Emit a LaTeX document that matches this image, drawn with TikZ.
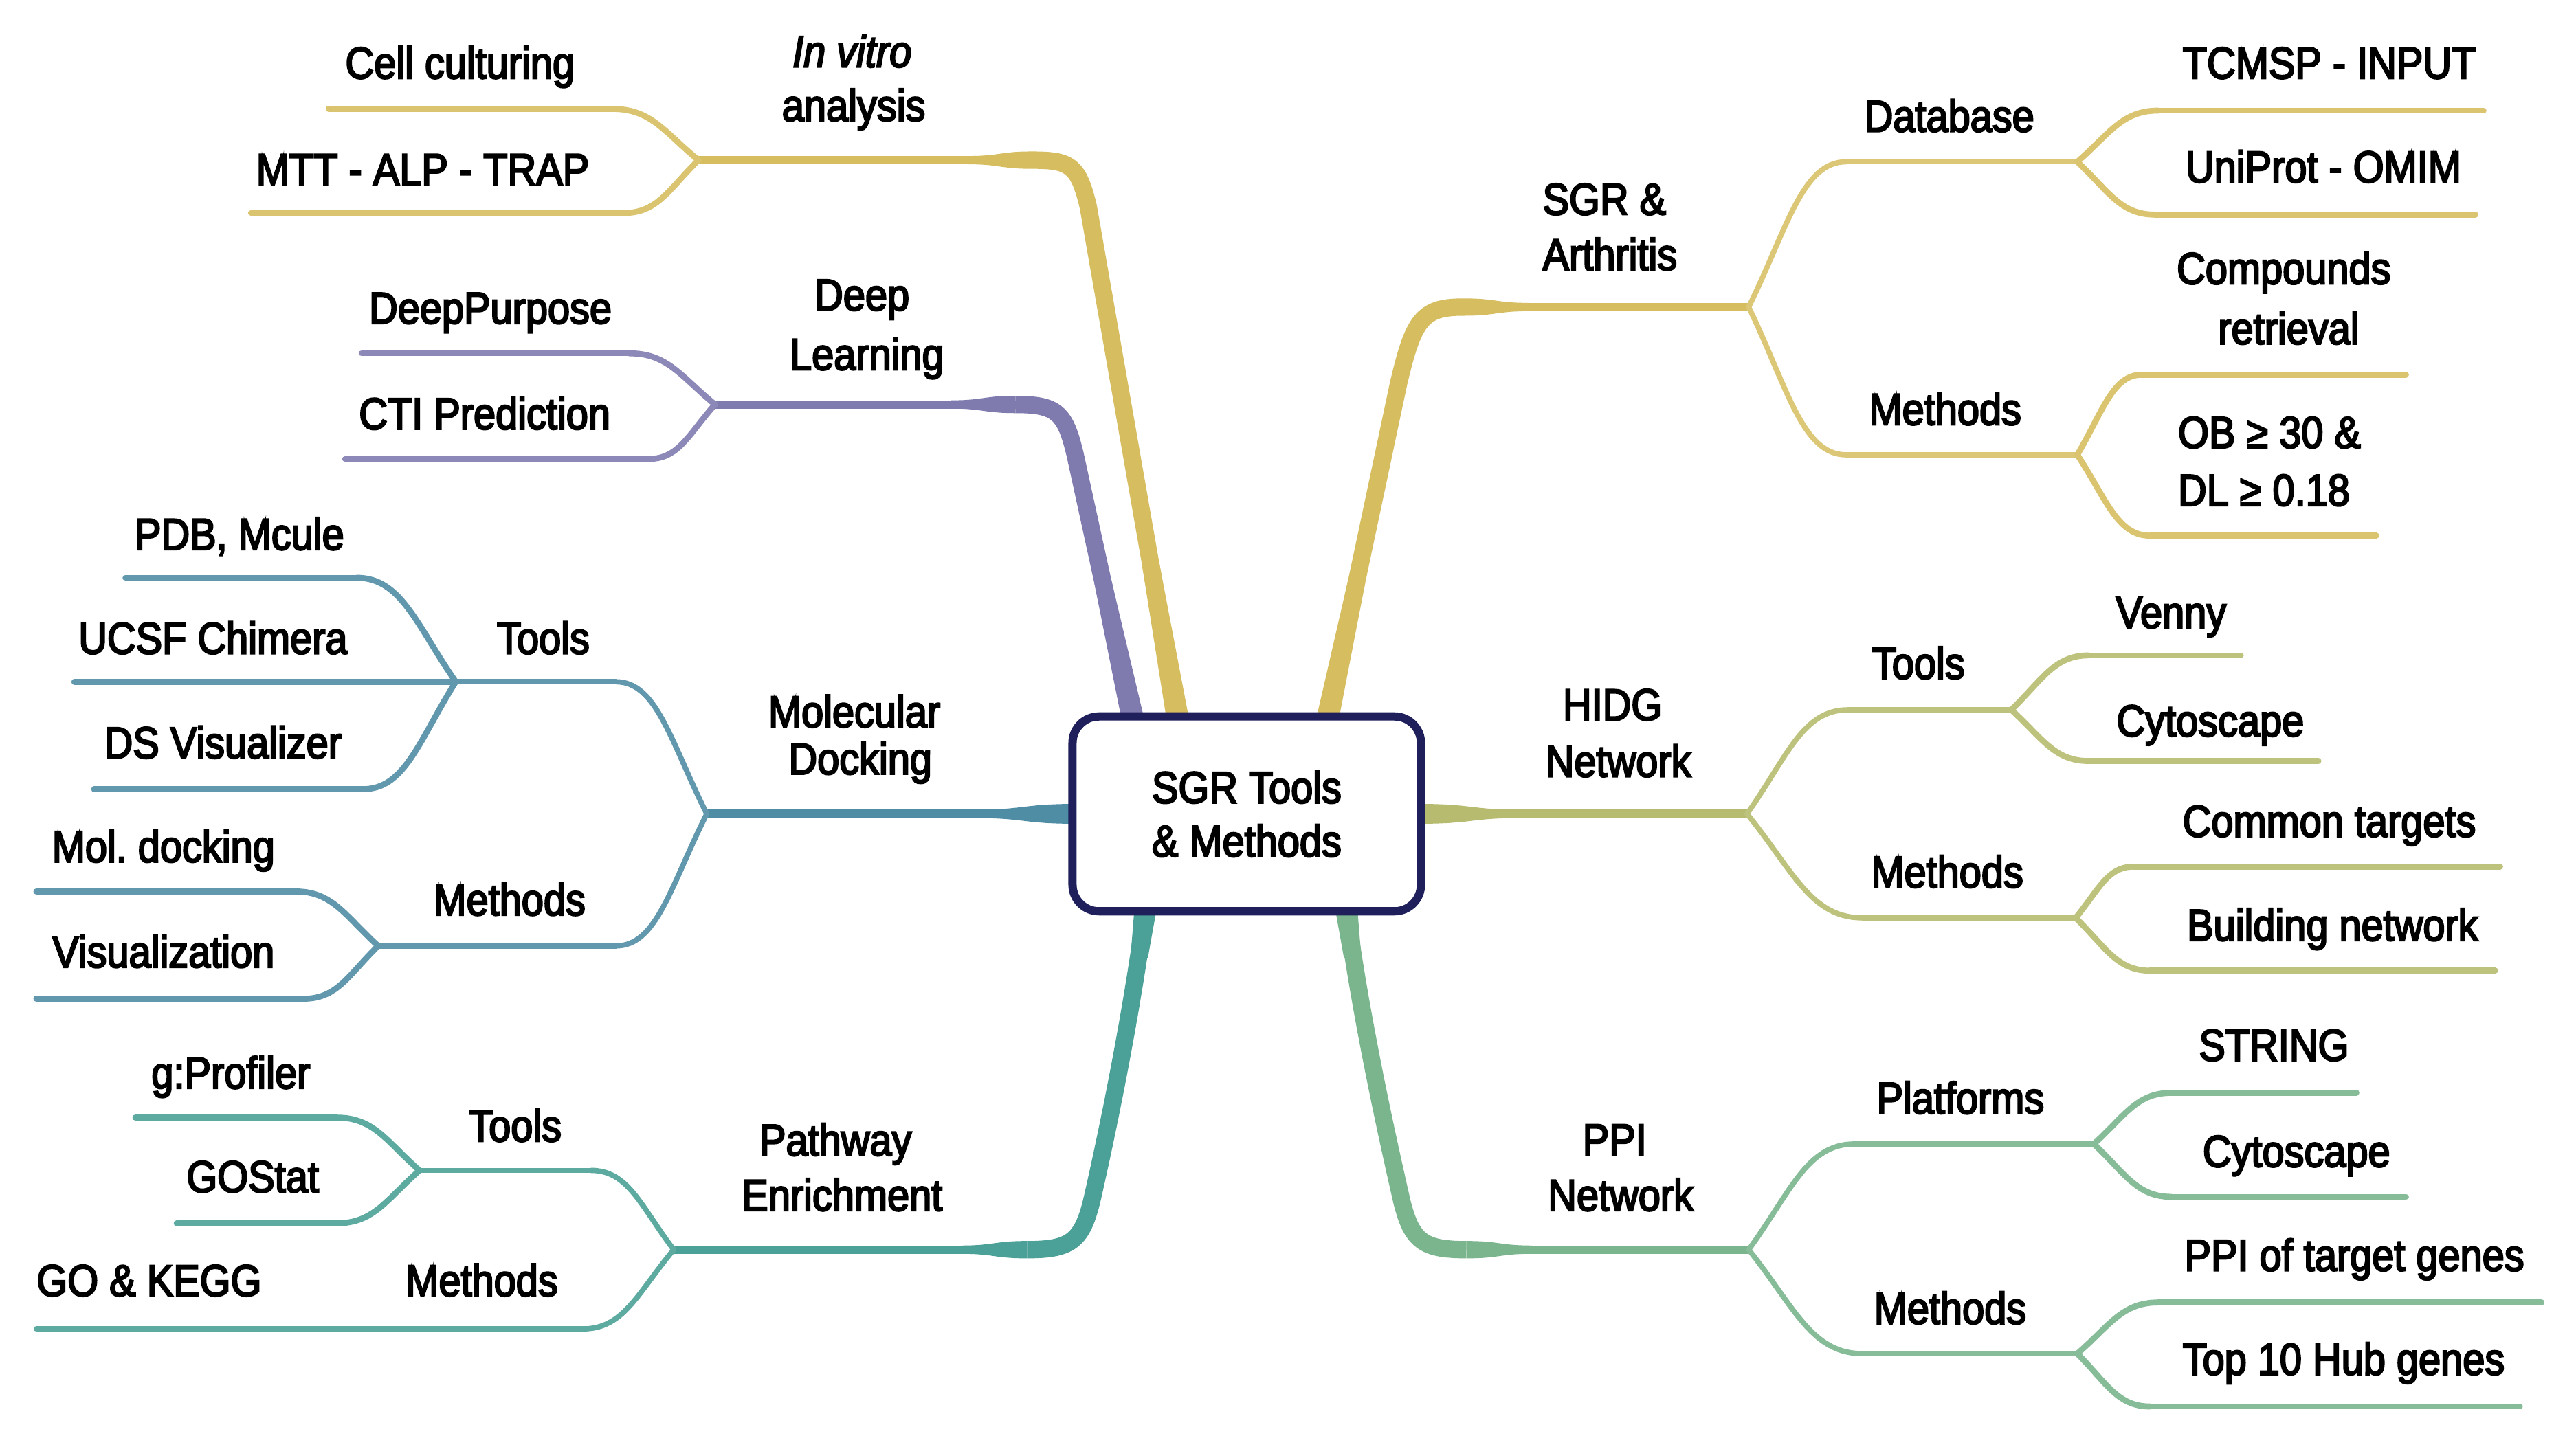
\documentclass[tikz,border=0pt]{standalone}
\usepackage{fontspec}
\setmainfont{Liberation Sans}[FakeStretch=0.89,FakeBold=3.5]
\usetikzlibrary{calc}
\definecolor{cA}{HTML}{D6BD5F}
\definecolor{cB}{HTML}{7F7BAF}
\definecolor{cC}{HTML}{4F8DA5}
\definecolor{cD}{HTML}{4BA097}
\definecolor{cE}{HTML}{D6BD5F}
\definecolor{cF}{HTML}{B6BB6F}
\definecolor{cG}{HTML}{7AB58D}
\definecolor{cbox}{HTML}{1F1F5C}
\newcommand\scurve[3]{\draw[#1] let \p1=(#2),\p2=(#3) in (\p1) .. controls ({\x1+0.45*(\x2-\x1)},\y1) and ({\x1+0.6*(\x2-\x1)},{\y1+0.45*(\y2-\y1)}) .. (\p2);}
\newcommand\taper[6]{\fill[#1] (#2,{#4-#5/2}) .. controls ({(#2+#3)/2},{#4-#5/2}) and ({(#2+#3)/2},{#4-#6/2}) .. (#3,{#4-#6/2}) -- (#3,{#4+#6/2}) .. controls ({(#2+#3)/2},{#4+#6/2}) and ({(#2+#3)/2},{#4+#5/2}) .. (#2,{#4+#5/2}) -- cycle;}
% base taper: colour, start, toward, half width at start, half width at end, length
\newcommand\btaper[6]{\coordinate (bt@end) at ($(#2)!#6!(#3)$);
 \fill[#1] ($(#2)!#4!90:(#3)$) -- ($(#2)!#4!-90:(#3)$) -- ($(bt@end)!#5!-90:(#3)$) -- ($(bt@end)!#5!90:(#3)$) -- cycle;}
\begin{document}
\begin{tikzpicture}[x=1pt,y=-1pt,
 lab/.style={inner sep=0pt, anchor=base, font=\fontsize{27}{32}\selectfont, text=black},
 labw/.style={lab, anchor=base west},
 mainl/.style={line width=5pt},
 sub/.style={line width=3.2pt, line cap=round},
 leaf/.style={line width=3.6pt, line cap=round},
 trunk/.style={line width=10.5pt}]
\fill[white] (0,0) rectangle (1560,876.5);
\useasboundingbox (0,0) rectangle (1560,876.5);

% ---------- coordinates ----------
% A: In vitro
\coordinate (A0) at (714,440); \coordinate (A1) at (659,125); \coordinate (AK) at (625,97); \coordinate (JA) at (423,97);
\coordinate (a1L) at (199,66);  \coordinate (a1R) at (371,66);
\coordinate (a2L) at (152,129); \coordinate (a2R) at (378,129);
% B: Deep learning
\coordinate (B0) at (687,440); \coordinate (B1) at (651,275); \coordinate (BK) at (615,245); \coordinate (JB) at (433,245);
\coordinate (b1L) at (219,214); \coordinate (b1R) at (381,214);
\coordinate (b2L) at (209,278); \coordinate (b2R) at (393,278);
% C: Molecular docking
\coordinate (C0) at (650,493); \coordinate (JC) at (428,493);
\coordinate (cT1) at (373,413); \coordinate (TC) at (276,413);
\coordinate (c1L) at (76,350);  \coordinate (c1R) at (216,350);
\coordinate (c2L) at (45,413);
\coordinate (c3L) at (57,478);  \coordinate (c3R) at (220,478);
\coordinate (cM1) at (373,573); \coordinate (MC) at (229,573);
\coordinate (c4L) at (22,540);  \coordinate (c4R) at (179,540);
\coordinate (c5L) at (22,605);  \coordinate (c5R) at (184,605);
% D: Pathway enrichment
\coordinate (D0) at (694,548); \coordinate (D1) at (686,610); \coordinate (DK) at (622,757); \coordinate (JD) at (408,757);
\coordinate (dT1) at (358,709); \coordinate (TD) at (254,709);
\coordinate (d1L) at (82,677);  \coordinate (d1R) at (204,677);
\coordinate (d2L) at (107,741); \coordinate (d2R) at (204,741);
\coordinate (dM1) at (353,805); \coordinate (d3L) at (22,805);
% E: SGR & Arthritis
\coordinate (E0) at (803,440); \coordinate (E1) at (847,232); \coordinate (EK) at (886,186); \coordinate (JE) at (1059,186);
\coordinate (eD1) at (1118,98); \coordinate (DE) at (1258,98);
\coordinate (e1L) at (1307,67);  \coordinate (e1R) at (1504,67);
\coordinate (e2L) at (1305,130); \coordinate (e2R) at (1499,130);
\coordinate (eM1) at (1118,275.5); \coordinate (ME) at (1258,275.5);
\coordinate (e3L) at (1297,227); \coordinate (e3R) at (1457,227);
\coordinate (e4L) at (1302,324.5); \coordinate (e4R) at (1439,324.5);
% F: HIDG network
\coordinate (F0) at (861,493); \coordinate (JF) at (1058,493);
\coordinate (fT1) at (1119,430); \coordinate (TF) at (1218,430);
\coordinate (f1L) at (1265,397); \coordinate (f1R) at (1357,397);
\coordinate (f2L) at (1265,461); \coordinate (f2R) at (1404,461);
\coordinate (fM1) at (1128,556); \coordinate (MF) at (1257,556);
\coordinate (f3L) at (1292,525); \coordinate (f3R) at (1514,525);
\coordinate (f4L) at (1302,588); \coordinate (f4R) at (1511,588);
% G: PPI network
\coordinate (G0) at (815,548); \coordinate (G1) at (823,610); \coordinate (GK) at (888,757); \coordinate (JG) at (1059,757);
\coordinate (gP1) at (1123,693); \coordinate (PG) at (1268,693);
\coordinate (g1L) at (1315,662); \coordinate (g1R) at (1427,662);
\coordinate (g2L) at (1315,725); \coordinate (g2R) at (1457,725);
\coordinate (gM1) at (1128,820); \coordinate (MG) at (1258,820);
\coordinate (g3L) at (1307,789); \coordinate (g3R) at (1539,789);
\coordinate (g4L) at (1302,852); \coordinate (g4R) at (1526,852);

% ---------- branch A ----------
\draw[trunk,cA] (A0) -- (A1) .. controls (653,100) and (648,97) .. (AK);
\btaper{cA}{A0}{A1}{6.8pt}{5.25pt}{100pt}
\taper{cA}{625}{586}{97}{10.5}{5}
\draw[mainl,cA] (AK) -- (JA);
\draw[leaf,cA!90!white] (a1L) -- (a1R); \scurve{leaf,cA!90!white}{a1R}{JA}
\draw[leaf,cA!90!white] (a2L) -- (a2R); \scurve{leaf,cA!90!white}{a2R}{JA}

% ---------- branch B ----------
\draw[trunk,cB] (B0) -- (B1) .. controls (645,250) and (640,245) .. (BK);
\btaper{cB}{B0}{B1}{6.8pt}{5.25pt}{90pt}
\taper{cB}{615}{576}{245}{10.5}{5}
\draw[mainl,cB] (BK) -- (JB);
\draw[leaf,cB!90!white] (b1L) -- (b1R); \scurve{leaf,cB!90!white}{b1R}{JB}
\draw[leaf,cB!90!white] (b2L) -- (b2R); \scurve{leaf,cB!90!white}{b2R}{JB}

% ---------- branch C ----------
\taper{cC}{650}{590}{493}{12}{5}
\draw[mainl,cC] (C0) -- (JC);
\draw[sub,cC!90!white] (TC) -- (cT1); \scurve{sub,cC!90!white}{cT1}{JC}
\draw[sub,cC!90!white] (MC) -- (cM1); \scurve{sub,cC!90!white}{cM1}{JC}
\draw[leaf,cC!90!white] (c1L) -- (c1R); \scurve{leaf,cC!90!white}{c1R}{TC}
\draw[leaf,cC!90!white] (c2L) -- (TC);
\draw[leaf,cC!90!white] (c3L) -- (c3R); \scurve{leaf,cC!90!white}{c3R}{TC}
\draw[leaf,cC!90!white] (c4L) -- (c4R); \scurve{leaf,cC!90!white}{c4R}{MC}
\draw[leaf,cC!90!white] (c5L) -- (c5R); \scurve{leaf,cC!90!white}{c5R}{MC}

% ---------- branch D ----------
\draw[trunk,cD] (D0) .. controls (D1) and (672,680) .. (661,728) .. controls (655,752) and (648,757) .. (DK);
\btaper{cD}{D0}{D1}{6.8pt}{5.25pt}{32pt}
\taper{cD}{622}{582}{757}{10.5}{5}
\draw[mainl,cD] (DK) -- (JD);
\draw[sub,cD!90!white] (TD) -- (dT1); \scurve{sub,cD!90!white}{dT1}{JD}
\draw[sub,cD!90!white] (d3L) -- (dM1); \scurve{sub,cD!90!white}{dM1}{JD}
\draw[leaf,cD!90!white] (d1L) -- (d1R); \scurve{leaf,cD!90!white}{d1R}{TD}
\draw[leaf,cD!90!white] (d2L) -- (d2R); \scurve{leaf,cD!90!white}{d2R}{TD}

% ---------- branch E ----------
\draw[trunk,cE] (E0) -- (E1) .. controls (856,194) and (861,186) .. (EK);
\btaper{cE}{E0}{E1}{6.8pt}{5.25pt}{90pt}
\taper{cE}{886}{926}{186}{10.5}{5}
\draw[mainl,cE] (EK) -- (JE);
\draw[sub,cE!85!white] (eD1) -- (DE); \scurve{sub,cE!85!white}{eD1}{JE}
\draw[sub,cE!85!white] (eM1) -- (ME); \scurve{sub,cE!85!white}{eM1}{JE}
\draw[leaf,cE!90!white] (e1L) -- (e1R); \scurve{leaf,cE!90!white}{e1L}{DE}
\draw[leaf,cE!90!white] (e2L) -- (e2R); \scurve{leaf,cE!90!white}{e2L}{DE}
\draw[leaf,cE!90!white] (e3L) -- (e3R); \scurve{leaf,cE!90!white}{e3L}{ME}
\draw[leaf,cE!90!white] (e4L) -- (e4R); \scurve{leaf,cE!90!white}{e4L}{ME}

% ---------- branch F ----------
\taper{cF}{861}{921}{493}{12}{5}
\draw[mainl,cF] (F0) -- (JF);
\draw[sub,cF!90!white] (fT1) -- (TF); \scurve{sub,cF!90!white}{fT1}{JF}
\draw[sub,cF!90!white] (fM1) -- (MF); \scurve{sub,cF!90!white}{fM1}{JF}
\draw[leaf,cF!90!white] (f1L) -- (f1R); \scurve{leaf,cF!90!white}{f1L}{TF}
\draw[leaf,cF!90!white] (f2L) -- (f2R); \scurve{leaf,cF!90!white}{f2L}{TF}
\draw[leaf,cF!90!white] (f3L) -- (f3R); \scurve{leaf,cF!90!white}{f3L}{MF}
\draw[leaf,cF!90!white] (f4L) -- (f4R); \scurve{leaf,cF!90!white}{f4L}{MF}

% ---------- branch G ----------
\draw[trunk,cG] (G0) .. controls (G1) and (838,680) .. (849,728) .. controls (855,752) and (862,757) .. (GK);
\btaper{cG}{G0}{G1}{6.8pt}{5.25pt}{32pt}
\taper{cG}{888}{928}{757}{10.5}{5}
\draw[mainl,cG] (GK) -- (JG);
\draw[sub,cG!90!white] (gP1) -- (PG); \scurve{sub,cG!90!white}{gP1}{JG}
\draw[sub,cG!90!white] (gM1) -- (MG); \scurve{sub,cG!90!white}{gM1}{JG}
\draw[leaf,cG!90!white] (g1L) -- (g1R); \scurve{leaf,cG!90!white}{g1L}{PG}
\draw[leaf,cG!90!white] (g2L) -- (g2R); \scurve{leaf,cG!90!white}{g2L}{PG}
\draw[leaf,cG!90!white] (g3L) -- (g3R); \scurve{leaf,cG!90!white}{g3L}{MG}
\draw[leaf,cG!90!white] (g4L) -- (g4R); \scurve{leaf,cG!90!white}{g4L}{MG}

% ---------- central box ----------
\node[draw=cbox, line width=5pt, rounded corners=16pt, fill=white, minimum width=211pt, minimum height=118pt, inner sep=0pt, align=center, font=\fontsize{27}{32.5}\selectfont] (box) at (755,493) {SGR Tools\\\& Methods};

% ---------- labels ----------
\node[lab] (tA1) at (516,40.6) {\itshape In vitro};
\node[lab] (tA2) at (517,73.3) {analysis};
\node[lab] (ta1) at (278.6,47.5) {Cell culturing};
\node[lab] (ta2) at (256,112) {MTT - ALP - TRAP};
\node[lab] (tB1) at (522,188) {Deep};
\node[lab] (tB2) at (525,224) {Learning};
\node[lab] (tb1) at (297,196) {DeepPurpose};
\node[lab] (tb2) at (293.5,260) {CTI Prediction};
\node[lab] (tC1) at (517.4,440.5) {Molecular};
\node[lab] (tC2) at (521,469) {Docking};
\node[lab] (tCT) at (329,396) {Tools};
\node[lab] (tc1) at (145,333) {PDB, Mcule};
\node[lab] (tc2) at (129,396) {UCSF Chimera};
\node[lab] (tc3) at (135,459.3) {DS Visualizer};
\node[lab] (tCM) at (308.5,554.4) {Methods};
\node[lab] (tc4) at (99,522.2) {Mol.\ docking};
\node[lab] (tc5) at (99,586) {Visualization};
\node[lab] (tD1) at (506,700) {Pathway};
\node[lab] (tD2) at (510,733.4) {Enrichment};
\node[lab] (tDT) at (312,691.4) {Tools};
\node[lab] (td1) at (139.8,659.3) {g:Profiler};
\node[lab] (td2) at (153,722.2) {GOStat};
\node[lab] (tDM) at (291.8,785.1) {Methods};
\node[lab] (td3) at (90.3,785.1) {GO \& KEGG};
\node[labw] (tE1) at (934,130) {SGR \&};
\node[labw] (tE2) at (934,163.6) {Arthritis};
\node[lab] (tED) at (1180.5,79.7) {Database};
\node[lab] (te1) at (1410.6,47.5) {TCMSP - INPUT};
\node[lab] (te2) at (1407,110.5) {UniProt - OMIM};
\node[lab] (tEM) at (1178,257.3) {Methods};
\node[lab] (te3a) at (1383,172) {Compounds};
\node[lab] (te3b) at (1386,208.4) {retrieval};
\node[labw] (te4a) at (1318.8,271.3) {OB ≥ 30 \&};
\node[labw] (te4b) at (1318.8,306.3) {DL ≥ 0.18};
\node[lab] (tF1) at (976.5,436.3) {HIDG};
\node[lab] (tF2) at (980,470.5) {Network};
\node[lab] (tFT) at (1161.8,411.2) {Tools};
\node[lab] (tf1) at (1314.8,380.4) {Venny};
\node[lab] (tf2) at (1338.5,446) {Cytoscape};
\node[lab] (tFM) at (1179.2,537.6) {Methods};
\node[lab] (tf3) at (1410.6,506.8) {Common targets};
\node[lab] (tf4) at (1412.6,569.8) {Building network};
\node[lab] (tG1) at (977.8,699.8) {PPI};
\node[lab] (tG2) at (981.5,733.4) {Network};
\node[lab] (tGP) at (1187.2,674.6) {Platforms};
\node[lab] (tg1) at (1377,642.5) {STRING};
\node[lab] (tg2) at (1390.7,706.8) {Cytoscape};
\node[lab] (tGM) at (1181,801.9) {Methods};
\node[lab] (tg3) at (1425.8,769.8) {PPI of target genes};
\node[lab] (tg4) at (1419.3,832.7) {Top 10 Hub genes};
\end{tikzpicture}
\end{document}
